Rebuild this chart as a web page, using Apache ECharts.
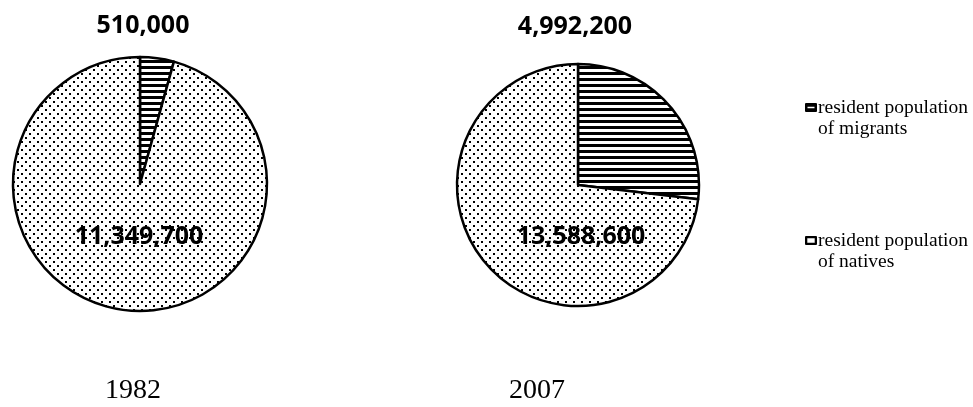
<!DOCTYPE html>
<html>
<head>
<meta charset="utf-8">
<script src="https://cdn.jsdelivr.net/npm/echarts@6/dist/echarts.min.js"></script>
<style>
  html, body { margin: 0; padding: 0; background: #fff; }
  #chart { width: 973px; height: 407px; }
</style>
</head>
<body>
<div id="chart"></div>
<script>
// Resident population by origin, two survey years
const years = ['1982', '2007'];
const groups = ['resident population of migrants', 'resident population of natives'];
const migrants = [510000, 4992200];
const natives = [11349700, 13588600];

// Fill patterns drawn into small canvases
function stripePattern() {
  const c = document.createElement('canvas');
  c.width = 6; c.height = 6;
  const g = c.getContext('2d');
  g.fillStyle = '#fff'; g.fillRect(0, 0, 6, 6);
  g.fillStyle = '#000'; g.fillRect(0, 0, 6, 3);
  return { image: c, repeat: 'repeat' };
}
function dotPattern() {
  const c = document.createElement('canvas');
  c.width = 8; c.height = 8;
  const g = c.getContext('2d');
  g.fillStyle = '#fff'; g.fillRect(0, 0, 8, 8);
  g.fillStyle = '#000';
  g.fillRect(1, 1, 2, 2);
  g.fillRect(5, 5, 2, 2);
  return { image: c, repeat: 'repeat' };
}

const stripes = stripePattern();
const dots = dotPattern();
const fmt = v => v.toLocaleString('en-US');

const valueFont = { fontFamily: 'Open Sans', fontWeight: 'bold', fontSize: 25, color: '#000' };

const pies = [
  { center: [140, 184], radius: 127, topDx: 3, topDy: -158, inDx: -1, inDy: 53 },
  { center: [578, 185], radius: 121, topDx: -3, topDy: -158, inDx: 3, inDy: 52 }
];

const series = pies.map((p, i) => ({
  type: 'pie',
  name: years[i],
  center: p.center,
  radius: p.radius,
  startAngle: 90,
  clockwise: true,
  silent: true,
  animation: false,
  itemStyle: { borderColor: '#000', borderWidth: 2.5 },
  emphasis: { disabled: true },
  label: Object.assign({ show: true, position: 'center', formatter: d => fmt(d.value) }, valueFont),
  labelLine: { show: false },
  labelLayout: params => params.dataIndex === 0
    ? { dx: p.topDx, dy: p.topDy }
    : { dx: p.inDx, dy: p.inDy },
  data: [
    { name: groups[0], value: migrants[i], itemStyle: { color: stripes } },
    { name: groups[1], value: natives[i], itemStyle: { color: dots } }
  ]
}));

const iconMigrants = 'path://M1,0 H11 Q12,0 12,1 V8 Q12,9 11,9 H1 Q0,9 0,8 V1 Q0,0 1,0 Z M2.5,3.8 V5.2 H9.5 V3.8 Z';
const iconNatives = 'path://M1,0 H11 Q12,0 12,1 V8 Q12,9 11,9 H1 Q0,9 0,8 V1 Q0,0 1,0 Z M2.3,2.3 V6.7 H9.7 V2.3 Z';

const chart = echarts.init(document.getElementById('chart'), null, { renderer: 'canvas' });
chart.setOption({
  backgroundColor: '#fff',
  animation: false,
  legend: {
    orient: 'vertical',
    left: 805,
    top: 76,
    itemWidth: 12,
    itemHeight: 10,
    itemGap: 70,
    selectedMode: false,
    padding: 0,
    data: [
      { name: groups[0], icon: iconMigrants, itemStyle: { color: '#000', borderWidth: 0 } },
      { name: groups[1], icon: iconNatives, itemStyle: { color: '#000', borderWidth: 0 } }
    ],
    formatter: name => '\n' + name.replace(' of ', '\nof '),
    textStyle: { fontFamily: 'Liberation Serif', fontSize: 19.5, lineHeight: 21, color: '#000', padding: [0, 0, 0, -4] }
  },
  graphic: [
    { type: 'text', x: 133, y: 391, style: { text: years[0], fontFamily: 'Liberation Serif', fontSize: 28, fill: '#000', textAlign: 'center', textVerticalAlign: 'middle' } },
    { type: 'text', x: 537, y: 391, style: { text: years[1], fontFamily: 'Liberation Serif', fontSize: 28, fill: '#000', textAlign: 'center', textVerticalAlign: 'middle' } }
  ],
  series: series
});
</script>
</body>
</html>
